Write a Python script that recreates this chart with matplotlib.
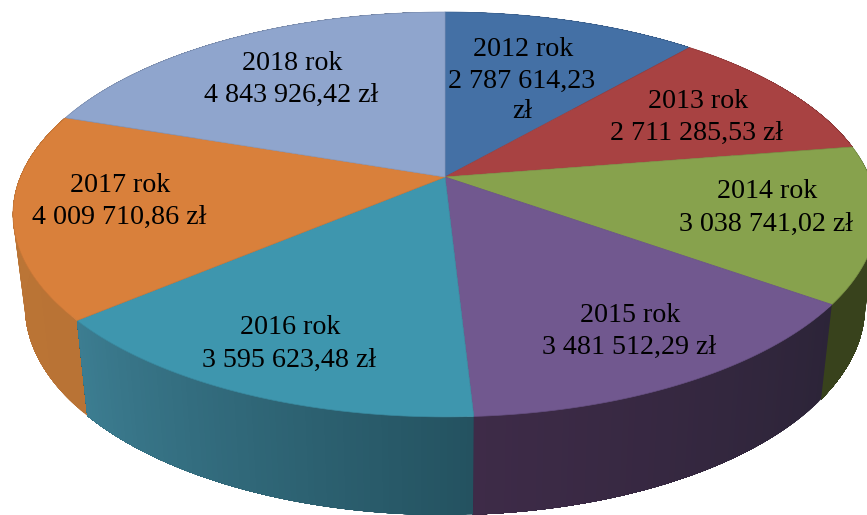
import numpy as np
import matplotlib
matplotlib.use("Agg")
import matplotlib.pyplot as plt

years = ["2012 rok", "2013 rok", "2014 rok", "2015 rok", "2016 rok", "2017 rok", "2018 rok"]
values = [2787614.23, 2711285.53, 3038741.02, 3481512.29, 3595623.48, 4009710.86, 4843926.42]
value_labels = ["2 787 614,23\nzł", "2 711 285,53 zł", "3 038 741,02 zł", "3 481 512,29 zł",
                "3 595 623,48 zł", "4 009 710,86 zł", "4 843 926,42 zł"]
top_colors = ["#4470A5", "#A84242", "#87A24D", "#71588F", "#3E96AE", "#D9803B", "#8FA5CD"]
wall_start = ["#2E4B70", "#702C2C", "#38421C", "#2C2438", "#245260", "#B97335", "#5F6E89"]
wall_end = ["#2E4B70", "#702C2C", "#38421C", "#3E2B48", "#3C7D91", "#BC7636", "#5F6E89"]
label_pos = [(523, 49), (698, 101), (767, 192), (630, 315), (290, 328), (120, 185), (292, 63)]

CX, CY, RX, RY, P = 445.0, 177.0, 424.6, 195.5, 0.185
BOTTOM_CY, BOTTOM_SX, BOTTOM_SY = 268.0, 0.972, 1.03
LINE_STEP = 32


def project(theta):
    """Perspective projection of the pie's rim; theta clockwise from the top."""
    x, y = np.sin(theta), np.cos(theta)
    w = 1 + P * y
    return CX + RX * x / w, CY - RY * y / w


def lower(sx, sy):
    return CX + (sx - CX) * BOTTOM_SX, BOTTOM_CY + (sy - CY) * BOTTOM_SY


def rgb(c):
    return np.array(matplotlib.colors.to_rgb(c))


plt.rcParams["font.family"] = ["Liberation Serif", "DejaVu Serif"]
fig = plt.figure(figsize=(8.67, 5.15), dpi=100)
ax = fig.add_axes([0, 0, 1, 1])
ax.set_xlim(0, 867)
ax.set_ylim(515, 0)
ax.axis("off")

edges = np.concatenate([[0], np.cumsum(values)]) / np.sum(values) * 2 * np.pi

# side walls, back to front; each band runs to the slice's end so no seams show
for i in [6, 0, 1, 2, 5, 3, 4]:
    a0, a1 = edges[i], edges[i + 1]
    n = max(int((a1 - a0) * 80), 2)
    ts = np.linspace(a0, a1, n + 1)
    c0, c1 = rgb(wall_start[i]), rgb(wall_end[i])
    for k in range(n):
        seg = np.linspace(ts[k], a1, 80)
        sx, sy = project(seg)
        bx, by = lower(sx, sy)
        col = c0 + (c1 - c0) * (k + 0.5) / n
        ax.fill(np.r_[sx, bx[::-1]], np.r_[sy, by[::-1]], color=col, lw=0, zorder=2)

# top faces
for i in range(len(values)):
    ts = np.linspace(edges[i], edges[i + 1], 120)
    sx, sy = project(ts)
    ax.fill(np.r_[CX, sx], np.r_[CY, sy], facecolor=top_colors[i],
            edgecolor=rgb(top_colors[i]) * 0.92, lw=0.5, joinstyle="round", zorder=3)

# labels
for i, (x, y) in enumerate(label_pos):
    ax.text(x, y, years[i], ha="center", va="center", fontsize=20.2, color="black", zorder=5)
    lines = value_labels[i].split("\n")
    for j, line in enumerate(lines):
        ax.text(x - 1, y + LINE_STEP * (j + 1) - (1 if j else 0), line, ha="center", va="center",
                fontsize=20.2, color="black", zorder=5)

fig.savefig("out.png", dpi=100, facecolor="white")
